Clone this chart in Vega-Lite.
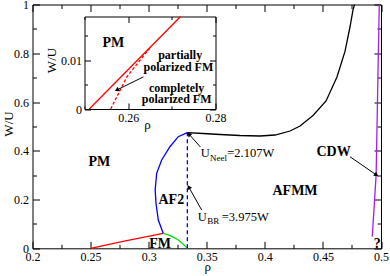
{
  "$schema": "https://vega.github.io/schema/vega-lite/v6.json",
  "width": 348.5,
  "height": 243.8,
  "autosize": {"type": "none"},
  "padding": {"left": 32.5, "top": 4.5, "right": 9, "bottom": 27.7},
  "background": "white",
  "config": {
    "view": {"stroke": null},
    "axis": {"grid": false, "domainColor": "black", "domainWidth": 1, "tickColor": "black", "tickWidth": 1, "labelFont": "Liberation Serif", "labelFontSize": 12, "labelColor": "black", "labelFlush": false, "labelOverlap": false, "titleFont": "Liberation Serif", "titleFontSize": 13, "titleFontWeight": "normal", "titleColor": "black"},
    "text": {"font": "Liberation Serif", "color": "black"}
  },
  "datasets": {
    "curves": [
      {"boundary": "PM-FM", "i": 0, "rho": 0.25, "wu": 0},
      {"boundary": "PM-FM", "i": 1, "rho": 0.28, "wu": 0.0305},
      {"boundary": "PM-FM", "i": 2, "rho": 0.3125, "wu": 0.0615},
      {"boundary": "FM-AF2", "i": 0, "rho": 0.3125, "wu": 0.0615},
      {"boundary": "FM-AF2", "i": 1, "rho": 0.317, "wu": 0.055},
      {"boundary": "FM-AF2", "i": 2, "rho": 0.3212, "wu": 0.046},
      {"boundary": "FM-AF2", "i": 3, "rho": 0.3255, "wu": 0.034},
      {"boundary": "FM-AF2", "i": 4, "rho": 0.3295, "wu": 0.018},
      {"boundary": "FM-AF2", "i": 5, "rho": 0.3333, "wu": 0},
      {"boundary": "PM-AF2", "i": 0, "rho": 0.3125, "wu": 0.0615},
      {"boundary": "PM-AF2", "i": 1, "rho": 0.3083, "wu": 0.116},
      {"boundary": "PM-AF2", "i": 2, "rho": 0.3063, "wu": 0.1846},
      {"boundary": "PM-AF2", "i": 3, "rho": 0.3056, "wu": 0.24},
      {"boundary": "PM-AF2", "i": 4, "rho": 0.3069, "wu": 0.3076},
      {"boundary": "PM-AF2", "i": 5, "rho": 0.3112, "wu": 0.3622},
      {"boundary": "PM-AF2", "i": 6, "rho": 0.3183, "wu": 0.4167},
      {"boundary": "PM-AF2", "i": 7, "rho": 0.3255, "wu": 0.4578},
      {"boundary": "PM-AF2", "i": 8, "rho": 0.3333, "wu": 0.4746},
      {"boundary": "PM-AFMM", "i": 0, "rho": 0.3333, "wu": 0.4746},
      {"boundary": "PM-AFMM", "i": 1, "rho": 0.3468, "wu": 0.4709},
      {"boundary": "PM-AFMM", "i": 2, "rho": 0.3614, "wu": 0.4668},
      {"boundary": "PM-AFMM", "i": 3, "rho": 0.3786, "wu": 0.4627},
      {"boundary": "PM-AFMM", "i": 4, "rho": 0.3958, "wu": 0.4606},
      {"boundary": "PM-AFMM", "i": 5, "rho": 0.4088, "wu": 0.4647},
      {"boundary": "PM-AFMM", "i": 6, "rho": 0.4217, "wu": 0.4811},
      {"boundary": "PM-AFMM", "i": 7, "rho": 0.4303, "wu": 0.5016},
      {"boundary": "PM-AFMM", "i": 8, "rho": 0.4415, "wu": 0.5447},
      {"boundary": "PM-AFMM", "i": 9, "rho": 0.4527, "wu": 0.6042},
      {"boundary": "PM-AFMM", "i": 10, "rho": 0.4621, "wu": 0.7026},
      {"boundary": "PM-AFMM", "i": 11, "rho": 0.469, "wu": 0.8076},
      {"boundary": "PM-AFMM", "i": 12, "rho": 0.4733, "wu": 0.9077},
      {"boundary": "PM-AFMM", "i": 13, "rho": 0.4759, "wu": 0.9774},
      {"boundary": "PM-AFMM", "i": 14, "rho": 0.4772, "wu": 1.0},
      {"boundary": "CDW", "i": 0, "rho": 0.4925, "wu": 0.048},
      {"boundary": "CDW", "i": 1, "rho": 0.4958, "wu": 0.3},
      {"boundary": "CDW", "i": 2, "rho": 0.4985, "wu": 1.0}
    ],
    "dashed": [
      {"i": 0, "rho": 0.3333, "wu": 0},
      {"i": 1, "rho": 0.3333, "wu": 0.4746}
    ],
    "phases": [
      {"label": "PM", "rho": 0.2575, "wu": 0.355},
      {"label": "AF2", "rho": 0.3195, "wu": 0.198},
      {"label": "FM", "rho": 0.3098, "wu": 0.0156},
      {"label": "AFMM", "rho": 0.426, "wu": 0.236},
      {"label": "CDW", "rho": 0.4592, "wu": 0.396},
      {"label": "?", "rho": 0.4968, "wu": 0.018}
    ],
    "formula": [
      {"part": "base", "label": "U", "rho": 0.3448, "wu": 0.3733},
      {"part": "sub", "label": "Neel", "rho": 0.3528, "wu": 0.36},
      {"part": "base", "label": "=2.107W", "rho": 0.3677, "wu": 0.3733},
      {"part": "base", "label": "U", "rho": 0.3422, "wu": 0.1132},
      {"part": "sub", "label": "BR", "rho": 0.3505, "wu": 0.1009},
      {"part": "base", "label": "=3.975W", "rho": 0.3629, "wu": 0.1132}
    ],
    "arrows": [
      {"arrow": "neel", "rho": 0.3347, "wu": 0.468, "rho2": 0.3446, "wu2": 0.4155},
      {"arrow": "br", "rho": 0.3345, "wu": 0.2514, "rho2": 0.3456, "wu2": 0.1571},
      {"arrow": "cdw", "rho": 0.4961, "wu": 0.3007, "rho2": 0.4733, "wu2": 0.3757}
    ],
    "insetCurves": [
      {"line": "solid", "i": 0, "rho": 0.2511, "wu": 0},
      {"line": "solid", "i": 1, "rho": 0.272, "wu": 0.019}
    ],
    "insetDashed": [
      {"i": 0, "rho": 0.256, "wu": 0},
      {"i": 1, "rho": 0.2597, "wu": 0.0066},
      {"i": 2, "rho": 0.2652, "wu": 0.0128}
    ],
    "insetText": [
      {"kind": "phase", "label": "PM", "rho": 0.2566, "wu": 0.0135},
      {"kind": "note", "label": "partially", "rho": 0.2719, "wu": 0.0111},
      {"kind": "note", "label": "polarized FM", "rho": 0.2715, "wu": 0.0087},
      {"kind": "note", "label": "completely", "rho": 0.2711, "wu": 0.0044},
      {"kind": "note", "label": "polarized FM", "rho": 0.2711, "wu": 0.0021}
    ],
    "insetArrow": [
      {"arrow": "inset", "rho": 0.2574, "wu": 0.0039, "rho2": 0.2635, "wu2": 0.0066}
    ]
  },
  "layer": [
    {
      "encoding": {
        "x": {"field": "rho", "type": "quantitative", "scale": {"domain": [0.2, 0.5], "nice": false, "zero": false},
          "axis": {"orient": "bottom", "title": "ρ", "values": [0.2, 0.225, 0.25, 0.275, 0.3, 0.325, 0.35, 0.375, 0.4, 0.425, 0.45, 0.475, 0.5], "format": "~g",
            "labelExpr": "abs(datum.value*20-round(datum.value*20))<0.001 ? datum.label : ''",
            "tickSize": {"condition": {"test": "abs(datum.value*20-round(datum.value*20))<0.001", "value": -7}, "value": -4},
            "labelPadding": 10, "titleX": 174.8, "titleY": 21.7, "titleBaseline": "alphabetic"}},
        "y": {"field": "wu", "type": "quantitative", "scale": {"domain": [0, 1], "nice": false, "zero": false},
          "axis": {"orient": "left", "title": "W/U", "values": [0, 0.1, 0.2, 0.3, 0.4, 0.5, 0.6, 0.7, 0.8, 0.9, 1], "format": "~g",
            "labelExpr": "abs(datum.value*5-round(datum.value*5))<0.001 ? datum.label : ''",
            "tickSize": {"condition": {"test": "abs(datum.value*5-round(datum.value*5))<0.001", "value": -7}, "value": -4},
            "labelPadding": 11, "titleX": -24.5, "titleY": 119, "titleAngle": -90, "titleBaseline": "middle"}}
      },
      "layer": [
        {"data": {"name": "curves"}, "mark": {"type": "line", "strokeWidth": 1.3},
          "encoding": {
            "color": {"field": "boundary", "type": "nominal", "scale": {"domain": ["PM-FM", "FM-AF2", "PM-AF2", "PM-AFMM", "CDW"], "range": ["#ff0000", "#00e000", "#0000ff", "#000000", "#a020f0"]}, "legend": null},
            "order": {"field": "i", "type": "quantitative"}
          }},
        {"data": {"name": "dashed"}, "mark": {"type": "line", "color": "#0000ff", "strokeWidth": 1.3, "strokeDash": [4, 3]},
          "encoding": {"order": {"field": "i", "type": "quantitative"}}}
      ]
    },
    {
      "encoding": {
        "x": {"field": "rho", "type": "quantitative", "scale": {"domain": [0.2, 0.5], "nice": false, "zero": false},
          "axis": {"orient": "top", "title": null, "labels": false, "values": [0.2, 0.225, 0.25, 0.275, 0.3, 0.325, 0.35, 0.375, 0.4, 0.425, 0.45, 0.475, 0.5],
            "tickSize": {"condition": {"test": "abs(datum.value*20-round(datum.value*20))<0.001", "value": -7}, "value": -4}}},
        "y": {"field": "wu", "type": "quantitative", "scale": {"domain": [0, 1], "nice": false, "zero": false},
          "axis": {"orient": "right", "title": null, "labels": false, "values": [0, 0.1, 0.2, 0.3, 0.4, 0.5, 0.6, 0.7, 0.8, 0.9, 1],
            "tickSize": {"condition": {"test": "abs(datum.value*5-round(datum.value*5))<0.001", "value": -7}, "value": -4}}}
      },
      "layer": [
        {"data": {"name": "phases"}, "mark": {"type": "text", "font": "Liberation Serif", "fontWeight": "bold", "fontSize": 14, "align": "center", "baseline": "middle"},
          "encoding": {"text": {"field": "label"}}},
        {"data": {"name": "formula"}, "transform": [{"filter": "datum.part == 'base'"}], "mark": {"type": "text", "font": "Liberation Serif", "fontSize": 12.5, "align": "left", "baseline": "alphabetic"},
          "encoding": {"text": {"field": "label"}}},
        {"data": {"name": "formula"}, "transform": [{"filter": "datum.part == 'sub'"}], "mark": {"type": "text", "font": "Liberation Serif", "fontSize": 9, "align": "left", "baseline": "alphabetic"},
          "encoding": {"text": {"field": "label"}}},
        {"data": {"name": "arrows"}, "mark": {"type": "rule", "color": "black", "strokeWidth": 1},
          "encoding": {"x2": {"field": "rho2"}, "y2": {"field": "wu2"}}},
        {"data": {"name": "arrows"}, "transform": [{"filter": "datum.arrow == 'neel'"}], "mark": {"type": "point", "shape": "triangle-up", "filled": true, "color": "black", "opacity": 1, "size": 26, "angle": -43},
          "encoding": {}},
        {"data": {"name": "arrows"}, "transform": [{"filter": "datum.arrow == 'br'"}], "mark": {"type": "point", "shape": "triangle-up", "filled": true, "color": "black", "opacity": 1, "size": 26, "angle": -30},
          "encoding": {}},
        {"data": {"name": "arrows"}, "transform": [{"filter": "datum.arrow == 'cdw'"}], "mark": {"type": "point", "shape": "triangle-up", "filled": true, "color": "black", "opacity": 1, "size": 26, "angle": 124},
          "encoding": {}}
      ]
    },
    {
      "encoding": {
        "x": {"field": "rho", "type": "quantitative", "scale": {"domain": [0.25, 0.28], "range": [52, 183], "nice": false, "zero": false},
          "axis": {"orient": "bottom", "offset": -139.3, "title": "ρ", "values": [0.25, 0.26, 0.27, 0.28], "format": "~g",
            "labelExpr": "abs(datum.value*50-round(datum.value*50))<0.001 ? datum.label : ''",
            "tickSize": {"condition": {"test": "abs(datum.value*50-round(datum.value*50))<0.001", "value": -6}, "value": -3},
            "labelPadding": 9, "titleX": 114.5, "titleY": 19, "titleBaseline": "alphabetic"}},
        "y": {"field": "wu", "type": "quantitative", "scale": {"domain": [0, 0.019], "range": [104.5, 12], "nice": false, "zero": false},
          "axis": {"orient": "left", "offset": -52, "title": "W/U", "values": [0, 0.005, 0.01, 0.015], "format": "~g",
            "labelExpr": "abs(datum.value*100-round(datum.value*100))<0.001 ? datum.label : ''",
            "tickSize": {"condition": {"test": "abs(datum.value*100-round(datum.value*100))<0.001", "value": -6}, "value": -3},
            "labelPadding": 9, "titleX": -32.8, "titleY": 55.5, "titleAngle": -90, "titleBaseline": "middle"}}
      },
      "layer": [
        {"data": {"name": "insetCurves"}, "mark": {"type": "line", "color": "#ff0000", "strokeWidth": 1.3},
          "encoding": {"order": {"field": "i", "type": "quantitative"}}},
        {"data": {"name": "insetDashed"}, "mark": {"type": "line", "color": "#ff0000", "strokeWidth": 1.3, "strokeDash": [3, 2]},
          "encoding": {"order": {"field": "i", "type": "quantitative"}}}
      ]
    },
    {
      "encoding": {
        "x": {"field": "rho", "type": "quantitative", "scale": {"domain": [0.25, 0.28], "range": [52, 183], "nice": false, "zero": false},
          "axis": {"orient": "top", "offset": -12, "title": null, "labels": false, "values": [0.25, 0.26, 0.27, 0.28],
            "tickSize": {"condition": {"test": "abs(datum.value*50-round(datum.value*50))<0.001", "value": -6}, "value": -3}}},
        "y": {"field": "wu", "type": "quantitative", "scale": {"domain": [0, 0.019], "range": [104.5, 12], "nice": false, "zero": false},
          "axis": {"orient": "right", "offset": -165.5, "title": null, "labels": false, "values": [0, 0.005, 0.01, 0.015],
            "tickSize": {"condition": {"test": "abs(datum.value*100-round(datum.value*100))<0.001", "value": -6}, "value": -3}}}
      },
      "layer": [
        {"data": {"name": "insetText"}, "transform": [{"filter": "datum.kind == 'phase'"}], "mark": {"type": "text", "font": "Liberation Serif", "fontWeight": "bold", "fontSize": 14, "align": "center", "baseline": "middle"},
          "encoding": {"text": {"field": "label"}}},
        {"data": {"name": "insetText"}, "transform": [{"filter": "datum.kind == 'note'"}], "mark": {"type": "text", "font": "Liberation Serif", "fontWeight": "bold", "fontSize": 12, "align": "center", "baseline": "middle"},
          "encoding": {"text": {"field": "label"}}},
        {"data": {"name": "insetArrow"}, "mark": {"type": "rule", "color": "black", "strokeWidth": 1},
          "encoding": {"x2": {"field": "rho2"}, "y2": {"field": "wu2"}}},
        {"data": {"name": "insetArrow"}, "mark": {"type": "point", "shape": "triangle-up", "filled": true, "color": "black", "opacity": 1, "size": 26, "angle": -117},
          "encoding": {}}
      ]
    }
  ],
  "resolve": {"scale": {"x": "independent", "y": "independent"}, "axis": {"x": "independent", "y": "independent"}}
}
